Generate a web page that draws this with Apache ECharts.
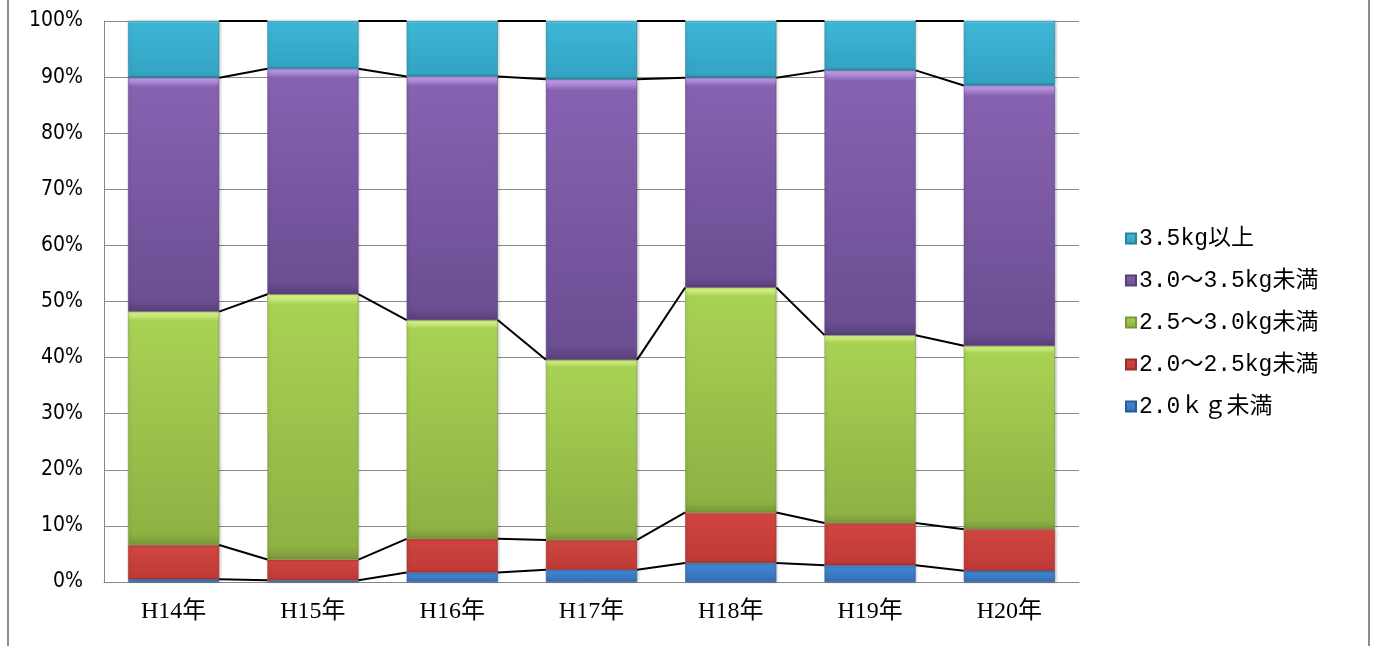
<!DOCTYPE html>
<html>
<head>
<meta charset="utf-8">
<script src="https://cdn.jsdelivr.net/npm/echarts@6/dist/echarts.min.js"></script>
<style>
  html, body { margin: 0; padding: 0; background: #fff; }
  #chart { width: 1375px; height: 646px; }
  .frame {
    position: absolute; left: 7px; top: -10px; width: 1359px; height: 700px;
    border-left: 2px solid #8c8c8c; border-right: 2px solid #8c8c8c;
    pointer-events: none;
  }
</style>
</head>
<body>
<div id="chart"></div>
<div class="frame"></div>
<script>
// 年度
const categories = ['H14年', 'H15年', 'H16年', 'H17年', 'H18年', 'H19年', 'H20年']

// 体重区分ごとの割合（%）
const under20 = [0.5, 0.3, 1.7, 2.2, 3.4, 3.0, 2.0]
const from20to25 = [6.1, 3.7, 6.0, 5.3, 9.0, 7.5, 7.4]
const from25to30 = [41.6, 47.3, 39.0, 32.1, 40.1, 33.5, 32.7]
const from30to35 = [41.7, 40.2, 43.4, 50.0, 37.4, 47.2, 46.4]
const over35 = [10.1, 8.5, 9.9, 10.4, 10.1, 8.8, 11.5]

const yTicks = { min: 0, max: 100, interval: 10 }

// 下から順に
const seriesDefs = [
  { name: '2.0ｋｇ未満', data: under20, c: ['#86c7f8', '#4288d4', '#3670b8', '#2a5a98'] },
  { name: '2.0～2.5kg未満', data: from20to25, c: ['#f3817c', '#cf4541', '#bf3a37', '#9c2e2c'] },
  { name: '2.5～3.0kg未満', data: from25to30, c: ['#e0fb96', '#a8d254', '#8fb244', '#789838'] },
  { name: '3.0～3.5kg未満', data: from30to35, c: ['#c9a6f2', '#8762b1', '#6c4e93', '#58407a'] },
  { name: '3.5kg以上', data: over35, c: ['#72e4f8', '#3fb6d6', '#33a3c2', '#27839c'] },
]

// 系列線用の累積値
const cumulative = []
let run = categories.map(() => 0)
seriesDefs.forEach((s) => {
  run = run.map((v, i) => v + s.data[i])
  cumulative.push(run.slice())
})

const BAR_RATIO = 0.654
const chart = echarts.init(document.getElementById('chart'))

const grad = (c) => new echarts.graphic.LinearGradient(0, 0, 0, 1, [
  { offset: 0, color: c[0] },
  { offset: 0.04, color: c[1] },
  { offset: 0.95, color: c[2] },
  { offset: 1, color: c[3] },
])

const barSeries = seriesDefs.map((s) => ({
  name: s.name,
  type: 'bar',
  stack: 'total',
  barWidth: (BAR_RATIO * 100) + '%',
  data: s.data,
  itemStyle: {
    color: grad(s.c),
    borderColor: s.c[3],
    borderWidth: 0.5,
    shadowColor: 'rgba(0,0,0,0.25)',
    shadowBlur: 3,
    shadowOffsetX: 1,
  },
  emphasis: { disabled: true },
}))

// 棒の間をつなぐ系列線
const seriesLines = {
  type: 'custom',
  silent: true,
  z: 5,
  data: categories.map((c, i) => [i, 0]),
  encode: { x: 0, y: 1 },
  renderItem: (params, api) => {
    const i = params.dataIndex
    if (i >= categories.length - 1) return
    const half = api.size([1, 0])[0] * BAR_RATIO / 2
    const children = cumulative.map((lvl) => {
      const a = api.coord([i, lvl[i]])
      const b = api.coord([i + 1, lvl[i + 1]])
      return {
        type: 'line',
        shape: { x1: a[0] + half, y1: a[1], x2: b[0] - half, y2: b[1] },
        style: { stroke: '#000', lineWidth: 2 },
      }
    })
    return { type: 'group', children }
  },
}

chart.setOption({
  animation: false,
  grid: { left: 104, right: 296, top: 21, bottom: 64 },
  legend: {
    orient: 'vertical',
    left: 1120,
    top: 222,
    itemWidth: 10,
    itemHeight: 10,
    itemGap: 19,
    icon: 'rect',
    data: seriesDefs.map((s) => s.name).reverse(),
    textStyle: {
      fontFamily: 'Liberation Mono, Noto Sans CJK JP',
      fontSize: 23,
      color: '#000',
      padding: [0, 0, 0, -2],
    },
  },
  xAxis: {
    type: 'category',
    data: categories,
    axisLine: { lineStyle: { color: '#868686', width: 1 } },
    axisTick: { show: false },
    axisLabel: {
      margin: 18,
      color: '#000',
      fontSize: 24,
      fontFamily: 'Liberation Serif, Noto Sans CJK JP',
    },
  },
  yAxis: {
    type: 'value',
    min: yTicks.min,
    max: yTicks.max,
    interval: yTicks.interval,
    axisLine: { show: true, lineStyle: { color: '#868686', width: 1 } },
    axisTick: { show: false },
    splitLine: { lineStyle: { color: '#8a8a8a', width: 1 } },
    axisLabel: {
      formatter: '{value}%',
      margin: 21,
      color: '#000',
      fontSize: 21,
      fontFamily: 'Liberation Sans Narrow, DejaVu Sans Condensed',
    },
  },
  series: [...barSeries, seriesLines],
})
</script>
</body>
</html>
